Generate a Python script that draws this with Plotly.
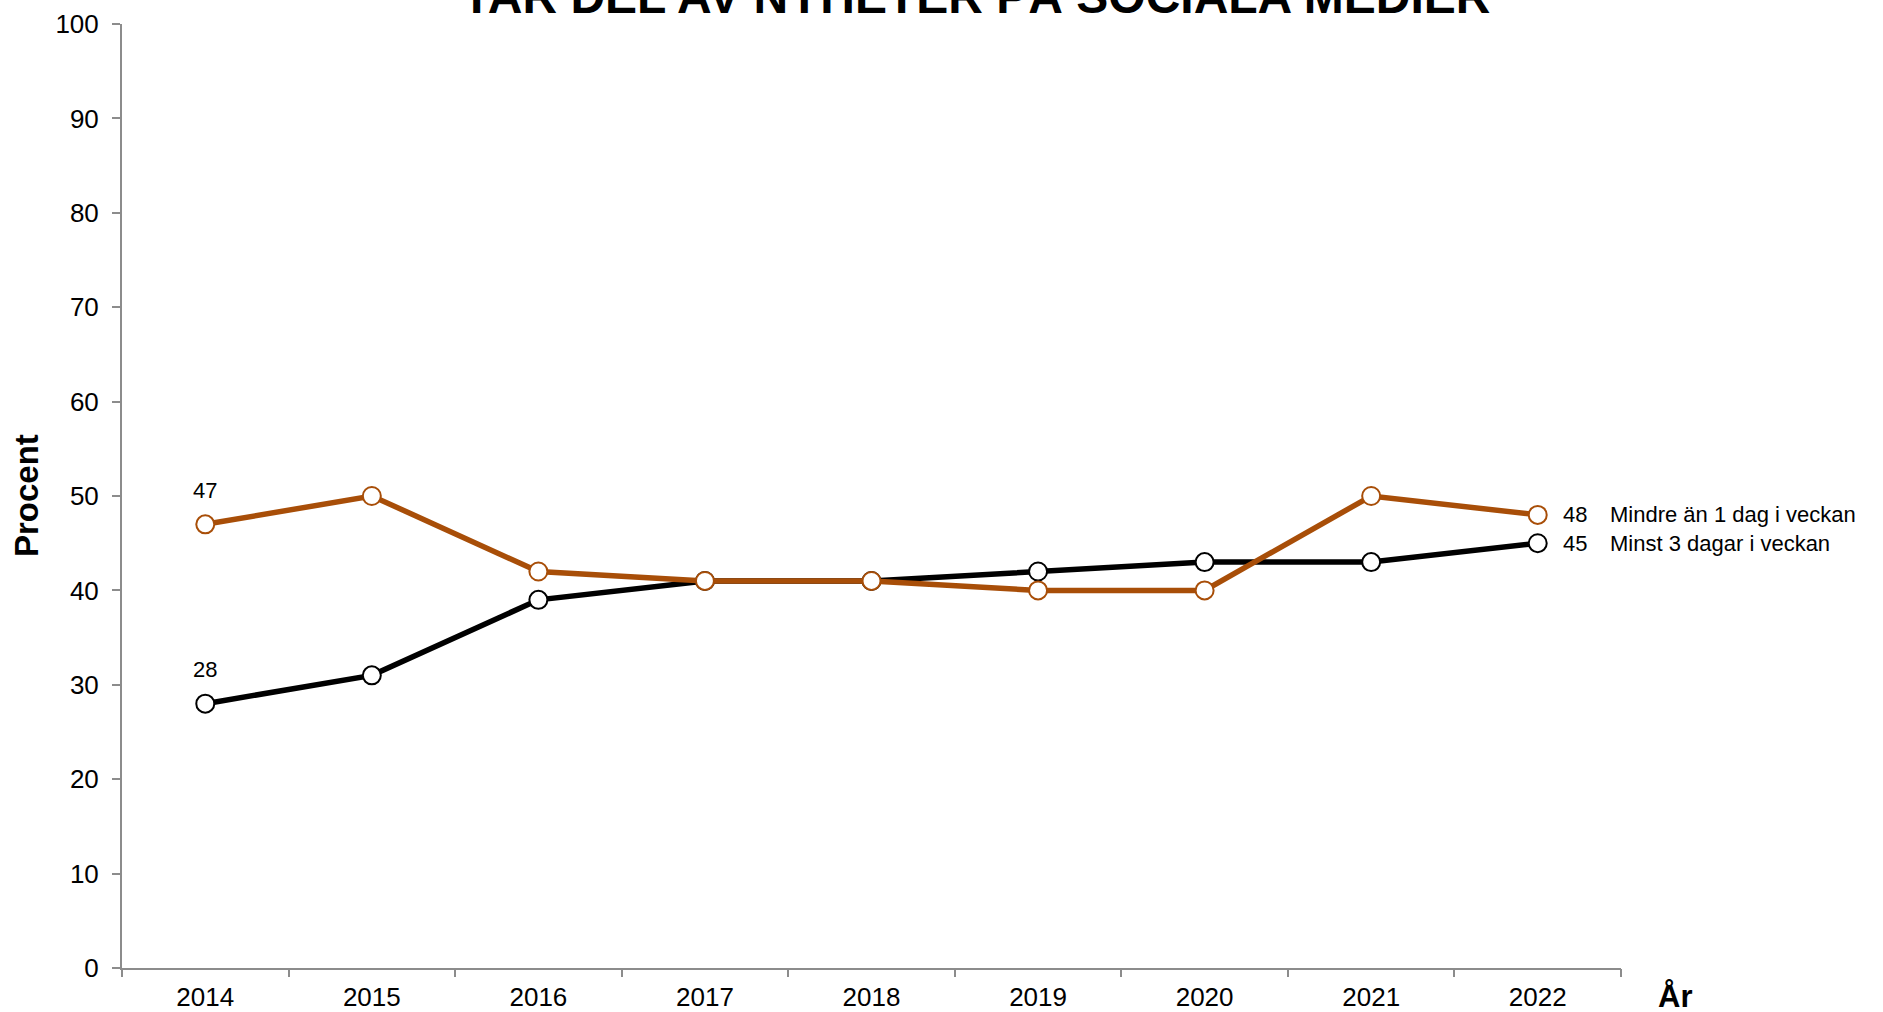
import plotly.graph_objects as go

years = ["2014", "2015", "2016", "2017", "2018", "2019", "2020", "2021", "2022"]
mindre = [47, 50, 42, 41, 41, 40, 40, 50, 48]
minst = [28, 31, 39, 41, 41, 42, 43, 43, 45]
name_mindre = "Mindre än 1 dag i veckan"
name_minst = "Minst 3 dagar i veckan"
title_text = "TAR DEL AV NYHETER PÅ SOCIALA MEDIER"

ORANGE = "#A84E08"
BLACK = "#000000"
AXIS = "#8C8C8C"
FONT = "Liberation Sans, Arial, sans-serif"

idx = list(range(len(years)))

fig = go.Figure()
fig.add_trace(go.Scatter(
    x=idx, y=minst, mode="lines+markers", name=name_minst,
    line=dict(color=BLACK, width=5.5),
    marker=dict(size=18, color="white", line=dict(color=BLACK, width=2)),
))
fig.add_trace(go.Scatter(
    x=idx, y=mindre, mode="lines+markers", name=name_mindre,
    line=dict(color=ORANGE, width=5.5),
    marker=dict(size=18, color="white", line=dict(color=ORANGE, width=2)),
))

ann = []
# first-point labels
for vals in (mindre, minst):
    ann.append(dict(x=idx[0], y=vals[0], text=str(vals[0]), showarrow=False,
                    yshift=34, font=dict(size=22, color="black", family=FONT)))
# end labels
for vals, nm in ((mindre, name_mindre), (minst, name_minst)):
    ann.append(dict(x=idx[-1], y=vals[-1], text=str(vals[-1]), showarrow=False,
                    xanchor="left", xshift=23, font=dict(size=22, color="black", family=FONT)))
    ann.append(dict(x=idx[-1], y=vals[-1], text=nm, showarrow=False,
                    xanchor="left", xshift=70, font=dict(size=22, color="black", family=FONT)))
# title (cut at top as in the reference)
ann.append(dict(xref="paper", yref="paper", x=0.570, y=1, yanchor="bottom",
                yshift=-1, text="<b>" + title_text + "</b>", showarrow=False,
                font=dict(size=48, color="black", family=FONT)))
# x axis title
ann.append(dict(xref="paper", yref="paper", x=1.036, y=0, xanchor="center", yanchor="bottom",
                yshift=-48, text="<b>År</b>", showarrow=False,
                font=dict(size=31, color="black", family=FONT)))
# y axis title
ann.append(dict(xref="paper", yref="paper", x=-0.064, y=0.5, xanchor="center", yanchor="middle",
                textangle=-90, text="<b>Procent</b>", showarrow=False,
                font=dict(size=33, color="black", family=FONT)))

fig.update_layout(
    width=1883, height=1012,
    margin=dict(l=122, r=262, t=24, b=44),
    paper_bgcolor="white", plot_bgcolor="white",
    showlegend=False,
    font=dict(family=FONT, color="black"),
    annotations=ann,
)
fig.update_xaxes(
    range=[-0.5, 8.5], tickmode="array", tickvals=idx, ticktext=years,
    showline=True, linecolor=AXIS, linewidth=2,
    ticks="", showgrid=False, zeroline=False, automargin=False,
    ticklabelstandoff=5,
    tickfont=dict(size=26, color="black", family=FONT),
)
# boundary tick marks via a second (overlay) x axis
fig.update_layout(xaxis2=dict(
    overlaying="x", side="bottom", range=[-0.5, 8.5],
    tickmode="array", tickvals=[i - 0.5 for i in idx] + [idx[-1] + 0.5],
    showticklabels=False, ticks="outside", ticklen=8, tickwidth=2, tickcolor=AXIS,
    showline=False, showgrid=False, zeroline=False, automargin=False,
))
fig.add_trace(go.Scatter(x=[idx[0]], y=[minst[0]], xaxis="x2", mode="markers",
                         marker=dict(opacity=0), hoverinfo="skip", showlegend=False))
fig.update_yaxes(
    range=[0, 100], dtick=10, tick0=0,
    showline=True, linecolor=AXIS, linewidth=2,
    ticks="outside", ticklen=8, tickwidth=2, tickcolor=AXIS,
    showgrid=False, zeroline=False, automargin=False,
    ticklabelstandoff=8,
    tickfont=dict(size=26, color="black", family=FONT),
)

fig.write_html("out.html", config={"displayModeBar": False},
               post_script="document.body.style.margin='0';document.body.style.overflow='hidden';")
